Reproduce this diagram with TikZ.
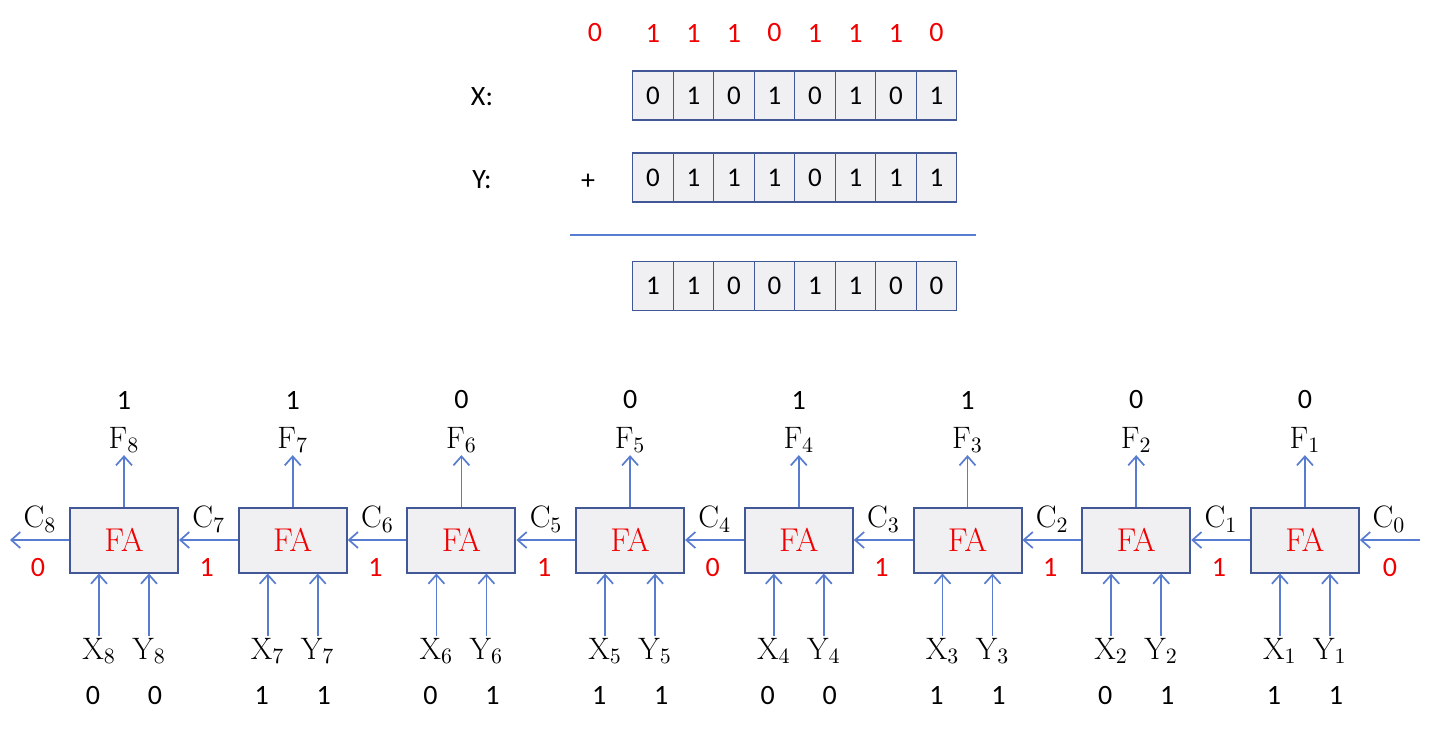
\documentclass[tikz,border=0pt]{standalone}
\usepackage{fontspec}
\newfontfamily\calibri{Carlito}
\usetikzlibrary{arrows.meta}
\definecolor{wire}{RGB}{88,124,208}
\definecolor{frame}{RGB}{66,88,150}
\definecolor{cellfill}{RGB}{240,240,243}
\definecolor{bitred}{RGB}{240,0,0}
\begin{document}
\begin{tikzpicture}[x=0.5pt,y=-0.5pt,
    cell/.style={draw=frame,fill=cellfill,line width=0.7pt,minimum width=20.25pt,
      minimum height=24.5pt,inner sep=0pt,font=\calibri\fontsize{13.5}{16}\selectfont},
    bit/.style={inner sep=1pt,font=\calibri\fontsize{14}{17}\selectfont},
    redbit/.style={bit,text=bitred},
    label/.style={inner sep=1pt,font=\fontsize{15.5}{18}\selectfont},
    fabox/.style={draw=frame,fill=cellfill,line width=1pt,minimum width=54pt,
      minimum height=32.5pt,inner sep=0pt,text=bitred,font=\fontsize{16.5}{19}\selectfont},
    sig/.style={draw=wire,line width=0.85pt,-{Straight Barb[length=4.5pt,width=8pt]}}]
  \useasboundingbox (0,0) rectangle (1440,729);

  % the addition on top
  \node[redbit] (cin) at (595,33) {0};
  \foreach \k/\cv/\xv/\yv/\sv in {1/1/0/0/1, 2/1/1/1/1, 3/1/0/1/0, 4/0/1/1/0,
                                 5/1/0/0/1, 6/1/1/1/1, 7/1/0/1/0, 8/0/1/1/0} {
    \node[redbit] (cr\k) at ({653+40.5*(\k-1)},33) {\cv};
    \node[cell] (xb\k) at ({653+40.5*(\k-1)},95.5) {\xv};
    \node[cell] (yb\k) at ({653+40.5*(\k-1)},177.5) {\yv};
    \node[cell] (sb\k) at ({653+40.5*(\k-1)},286) {\sv};
  }
  \node[bit] (xname) at (482,97) {X:};
  \node[bit] (yname) at (482,180) {Y:};
  \node[bit] (plus) at (588,182) {+};
  \draw[wire,line width=0.85pt] (570,235) -- (976,235);

  % ripple carry adder
  \foreach \i/\f/\xv/\yv/\c in {8/1/0/0/0, 7/1/1/1/1, 6/0/0/1/1, 5/0/1/1/1,
                               4/1/0/0/0, 3/1/1/1/1, 2/0/0/1/1, 1/0/1/1/1} {
    \node[fabox] (fa\i) at ({124+168.7*(8-\i)},540) {FA};
    \node[label] (f\i) at ({124+168.7*(8-\i)},440) {$\mathrm{F}_{\i}$};
    \node[bit] (fv\i) at ({124+168.7*(8-\i)},400) {\f};
    \node[label] (x\i) at ({99+168.7*(8-\i)},651) {$\mathrm{X}_{\i}$};
    \node[label] (y\i) at ({149+168.7*(8-\i)},651) {$\mathrm{Y}_{\i}$};
    \node[bit] (xv\i) at ({93+168.7*(8-\i)},695) {\xv};
    \node[bit] (yv\i) at ({155+168.7*(8-\i)},695) {\yv};
    \node[label] (c\i) at ({40+168.7*(8-\i)},519) {$\mathrm{C}_{\i}$};
    \node[redbit] (cv\i) at ({38+168.7*(8-\i)},567) {\c};
    \draw[sig] (fa\i.north) -- (f\i.south);
    \draw[sig] (x\i.north) -- (x\i.north |- fa\i.south);
    \draw[sig] (y\i.north) -- (y\i.north |- fa\i.south);
  }
  \node[label] (c0) at (1389,519) {$\mathrm{C}_{0}$};
  \node[redbit] (cv0) at (1390,567) {0};
  \coordinate (cout) at (10,540);
  \coordinate (cfeed) at (1420,540);

  \foreach \i/\j in {8/7, 7/6, 6/5, 5/4, 4/3, 3/2, 2/1}
    \draw[sig] (fa\j.west) -- (fa\i.east);
  \draw[sig] (fa8.west) -- (cout);
  \draw[sig] (cfeed) -- (fa1.east);
\end{tikzpicture}
\end{document}
